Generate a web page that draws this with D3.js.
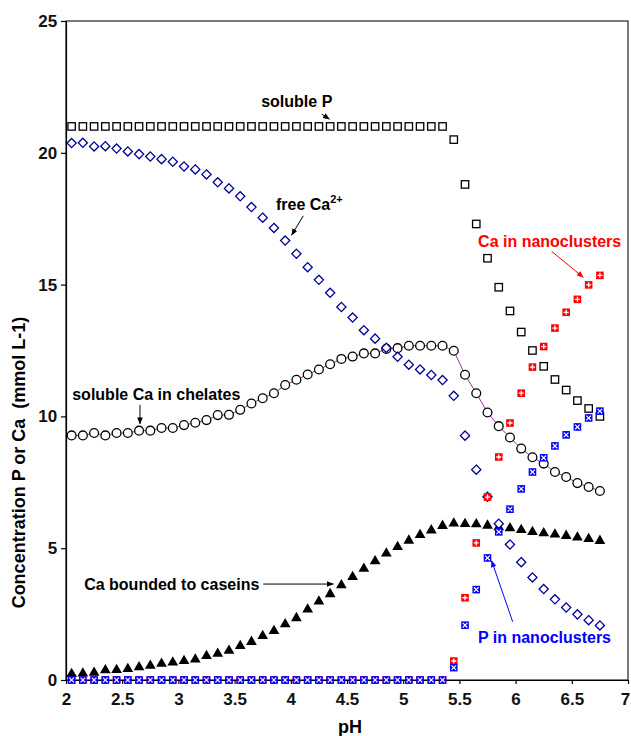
<!DOCTYPE html>
<html lang="en">
<head>
<meta charset="UTF-8">
<title>Concentration P or Ca vs pH</title>
<script src="https://d3js.org/d3.v7.min.js"></script>
<style>
    body { margin: 0; background: #fff; }
    svg { font-family: Arial, "Liberation Sans", sans-serif; font-weight: bold; }
    .axis text { font-size: 17px; font-weight: bold; fill: #111; }
    .axis path, .axis line { stroke: #000; stroke-width: 1.2; }
    .note { font-size: 16px; font-weight: bold; }
</style>
</head>
<body>
<div id="chart"></div>
<script>
// pH values of the series
const pH = [2.05, 2.15, 2.25, 2.35, 2.45, 2.55, 2.65, 2.75, 2.85, 2.95,
            3.05, 3.15, 3.25, 3.35, 3.45, 3.55, 3.65, 3.75, 3.85, 3.95,
            4.05, 4.15, 4.25, 4.35, 4.45, 4.55, 4.65, 4.75, 4.85, 4.95,
            5.05, 5.15, 5.25, 5.35, 5.45, 5.55, 5.65, 5.75, 5.85, 5.95,
            6.05, 6.15, 6.25, 6.35, 6.45, 6.55, 6.65, 6.75];

const solubleP = [21, 21, 21, 21, 21, 21, 21, 21, 21, 21,
                  21, 21, 21, 21, 21, 21, 21, 21, 21, 21,
                  21, 21, 21, 21, 21, 21, 21, 21, 21, 21,
                  21, 21, 21, 21, 20.5, 18.8, 17.3, 16.0, 14.9, 14.0,
                  13.2, 12.5, 11.9, 11.4, 11.0, 10.6, 10.3, 10.0];

const freeCa = [20.37, 20.38, 20.24, 20.25, 20.16, 20.05, 19.95, 19.86, 19.76, 19.66,
                19.48, 19.37, 19.18, 18.88, 18.65, 18.35, 17.94, 17.54, 17.15, 16.67,
                16.17, 15.66, 15.18, 14.69, 14.15, 13.75, 13.27, 12.95, 12.6, 12.26,
                11.96, 11.78, 11.57, 11.38, 10.78, 9.27, 7.98, 6.95, 5.93, 5.14,
                4.47, 3.89, 3.45, 3.06, 2.75, 2.49, 2.27, 2.07];

const chelatesCa = [9.28, 9.28, 9.37, 9.28, 9.37, 9.37, 9.46, 9.46, 9.56, 9.56,
                    9.67, 9.76, 9.86, 10.05, 10.06, 10.25, 10.49, 10.69, 10.88, 11.19,
                    11.39, 11.59, 11.78, 11.98, 12.18, 12.27, 12.39, 12.39, 12.56, 12.59,
                    12.68, 12.68, 12.68, 12.68, 12.49, 11.58, 10.88, 10.15, 9.63, 9.2,
                    8.78, 8.45, 8.21, 7.89, 7.7, 7.47, 7.32, 7.17];

const caseinCa = [0.23, 0.25, 0.28, 0.37, 0.38, 0.42, 0.49, 0.54, 0.62, 0.67,
                  0.72, 0.78, 0.91, 1.0, 1.11, 1.29, 1.45, 1.67, 1.86, 2.12,
                  2.35, 2.68, 2.98, 3.26, 3.6, 3.91, 4.22, 4.51, 4.8, 5.05,
                  5.29, 5.5, 5.68, 5.85, 5.94, 5.92, 5.91, 5.86, 5.8, 5.76,
                  5.69, 5.62, 5.57, 5.52, 5.47, 5.41, 5.35, 5.28];

const nanoCa = [0, 0, 0, 0, 0, 0, 0, 0, 0, 0,
                0, 0, 0, 0, 0, 0, 0, 0, 0, 0,
                0, 0, 0, 0, 0, 0, 0, 0, 0, 0,
                0, 0, 0, 0, 0.72, 3.12, 5.2, 6.94, 8.46, 9.75,
                10.88, 11.87, 12.65, 13.35, 13.95, 14.44, 14.99, 15.35];

const nanoP = [0, 0, 0, 0, 0, 0, 0, 0, 0, 0,
               0, 0, 0, 0, 0, 0, 0, 0, 0, 0,
               0, 0, 0, 0, 0, 0, 0, 0, 0, 0,
               0, 0, 0, 0, 0.47, 2.08, 3.43, 4.63, 5.62, 6.48,
               7.25, 7.89, 8.43, 8.88, 9.3, 9.6, 9.94, 10.2];

const xTicks = [2, 2.5, 3, 3.5, 4, 4.5, 5, 5.5, 6, 6.5, 7];
const yTicks = [0, 5, 10, 15, 20, 25];

const width = 631, height = 736;
const margin = {top: 21, right: 3, bottom: 56, left: 66};

const svg = d3.select("#chart").append("svg")
    .attr("width", width)
    .attr("height", height);

const x = d3.scaleLinear().domain([2, 7]).range([margin.left, width - margin.right]);
const y = d3.scaleLinear().domain([0, 25]).range([height - margin.bottom, margin.top]);

// arrow heads
const defs = svg.append("defs");
["#000", "#ff0000", "#0000ff"].forEach((c, i) => {
    defs.append("marker")
        .attr("id", "arr" + i)
        .attr("viewBox", "0 0 10 10")
        .attr("refX", 9).attr("refY", 5)
        .attr("markerWidth", 7).attr("markerHeight", 7)
        .attr("markerUnits", "userSpaceOnUse")
        .attr("orient", "auto")
        .append("path")
        .attr("d", "M0,1 L10,5 L0,9 Z")
        .attr("fill", c);
});

// frame
svg.append("rect")
    .attr("x", x(2)).attr("y", y(25))
    .attr("width", x(7) - x(2)).attr("height", y(0) - y(25))
    .attr("fill", "none").attr("stroke", "#222").attr("stroke-width", 1.2);

// axes
svg.append("g")
    .attr("class", "axis")
    .attr("transform", `translate(0,${y(0)})`)
    .call(d3.axisBottom(x).tickValues(xTicks).tickSize(4).tickSizeOuter(0)
        .tickFormat(d => d))
    .call(g => g.selectAll("text").attr("dy", "1.05em"))
    // last label sits on the right edge, nudge it in a bit
    .call(g => g.selectAll(".tick").filter(d => d === 7).select("text").attr("dx", -3));

svg.append("g")
    .attr("class", "axis")
    .attr("transform", `translate(${x(2)},0)`)
    .call(d3.axisLeft(y).tickValues(yTicks).tickSize(5).tickSizeOuter(0))
    .call(g => g.selectAll("text").attr("dx", "-0.05em"));

// axis titles
svg.append("text")
    .attr("x", 350).attr("y", 733)
    .attr("text-anchor", "middle")
    .style("font-size", "18px")
    .text("pH");

svg.append("text")
    .attr("transform", `translate(25,${y(8.25)}) rotate(-90)`)
    .attr("text-anchor", "middle")
    .style("font-size", "18px")
    .style("white-space", "pre")
    .attr("xml:space", "preserve")
    .text("Concentration P or Ca  (mmol L-1)");

const pts = arr => pH.map((p, i) => [p, arr[i]]);

// soluble Ca in chelates: line + circles
svg.append("path")
    .datum(pts(chelatesCa))
    .attr("fill", "none")
    .attr("stroke", "#993399")
    .attr("stroke-width", 1)
    .attr("d", d3.line().x(d => x(d[0])).y(d => y(d[1])));

svg.append("g").selectAll("circle")
    .data(pts(chelatesCa))
    .join("circle")
    .attr("cx", d => x(d[0])).attr("cy", d => y(d[1]))
    .attr("r", 4.4)
    .attr("fill", "#fff").attr("stroke", "#000").attr("stroke-width", 1.3);

// Ca bounded to caseins: filled triangles
svg.append("g").selectAll("path")
    .data(pts(caseinCa))
    .join("path")
    .attr("transform", d => `translate(${x(d[0])},${y(d[1])})`)
    .attr("d", d3.symbol().type(d3.symbolTriangle).size(50))
    .attr("fill", "#000");

// soluble P: open squares
svg.append("g").selectAll("rect")
    .data(pts(solubleP))
    .join("rect")
    .attr("x", d => x(d[0]) - 3.7).attr("y", d => y(d[1]) - 3.7)
    .attr("width", 7.4).attr("height", 7.4)
    .attr("fill", "#fff").attr("stroke", "#000").attr("stroke-width", 1.3);

// free Ca2+: open diamonds
svg.append("g").selectAll("path")
    .data(pts(freeCa))
    .join("path")
    .attr("transform", d => `translate(${x(d[0])},${y(d[1])})`)
    .attr("d", "M0,-4.6 L4.6,0 L0,4.6 L-4.6,0 Z")
    .attr("fill", "#fff").attr("stroke", "#000099").attr("stroke-width", 1.3);

// Ca in nanoclusters: red squares with white plus
const redG = svg.append("g").selectAll("g")
    .data(pts(nanoCa))
    .join("g")
    .attr("transform", d => `translate(${x(d[0])},${y(d[1])})`);
redG.append("rect")
    .attr("x", -3.8).attr("y", -3.8).attr("width", 7.6).attr("height", 7.6)
    .attr("fill", "#ff0000");
redG.append("path")
    .attr("d", "M-2.5,0 H2.5 M0,-2.5 V2.5")
    .attr("stroke", "#fff").attr("stroke-width", 1.3);

// P in nanoclusters: blue squares with white cross
const blueG = svg.append("g").selectAll("g")
    .data(pts(nanoP))
    .join("g")
    .attr("transform", d => `translate(${x(d[0])},${y(d[1])})`);
blueG.append("rect")
    .attr("x", -3.8).attr("y", -3.8).attr("width", 7.6).attr("height", 7.6)
    .attr("fill", "#0000ff");
blueG.append("path")
    .attr("d", "M-2.3,-2.3 L2.3,2.3 M-2.3,2.3 L2.3,-2.3")
    .attr("stroke", "#fff").attr("stroke-width", 1.2);

// annotations (positions in data units)
const notes = [
    {text: "soluble P", px: 4.053, py: 21.74, anchor: "middle", color: "#000",
     arrow: [4.275, 21.47, 4.343, 21.28], m: 0},
    {text: "soluble Ca in chelates", px: 2.803, py: 10.64, anchor: "middle", color: "#000",
     arrow: [2.658, 10.44, 2.658, 9.72], m: 0},
    {text: "Ca bounded to caseins", px: 3.72, py: 3.41, anchor: "end", color: "#000",
     arrow: [3.755, 3.64, 4.378, 3.64], m: 0},
    {text: "Ca in nanoclusters", px: 6.303, py: 16.41, anchor: "middle", color: "#ff0000",
     arrow: [6.321, 16.26, 6.602, 15.28], m: 1},
    {text: "P in nanoclusters", px: 6.257, py: 1.40, anchor: "middle", color: "#0000ff",
     arrow: [5.974, 2.21, 5.787, 4.52], m: 2}
];

notes.forEach(n => {
    svg.append("text")
        .attr("class", "note")
        .attr("x", x(n.px)).attr("y", y(n.py))
        .attr("text-anchor", n.anchor)
        .attr("fill", n.color)
        .text(n.text);
    svg.append("line")
        .attr("x1", x(n.arrow[0])).attr("y1", y(n.arrow[1]))
        .attr("x2", x(n.arrow[2])).attr("y2", y(n.arrow[3]))
        .attr("stroke", n.color).attr("stroke-width", 1)
        .attr("marker-end", `url(#arr${n.m})`);
});

// free Ca2+ with superscript
const fc = svg.append("text")
    .attr("class", "note")
    .attr("x", x(3.868)).attr("y", y(17.83))
    .attr("fill", "#000");
fc.append("tspan").text("free Ca");
fc.append("tspan").attr("dy", -7).style("font-size", "11px").text("2+");
svg.append("line")
    .attr("x1", x(4.111)).attr("y1", y(17.61))
    .attr("x2", x(4.008)).attr("y2", y(16.88))
    .attr("stroke", "#000").attr("stroke-width", 1)
    .attr("marker-end", "url(#arr0)");
</script>
</body>
</html>
